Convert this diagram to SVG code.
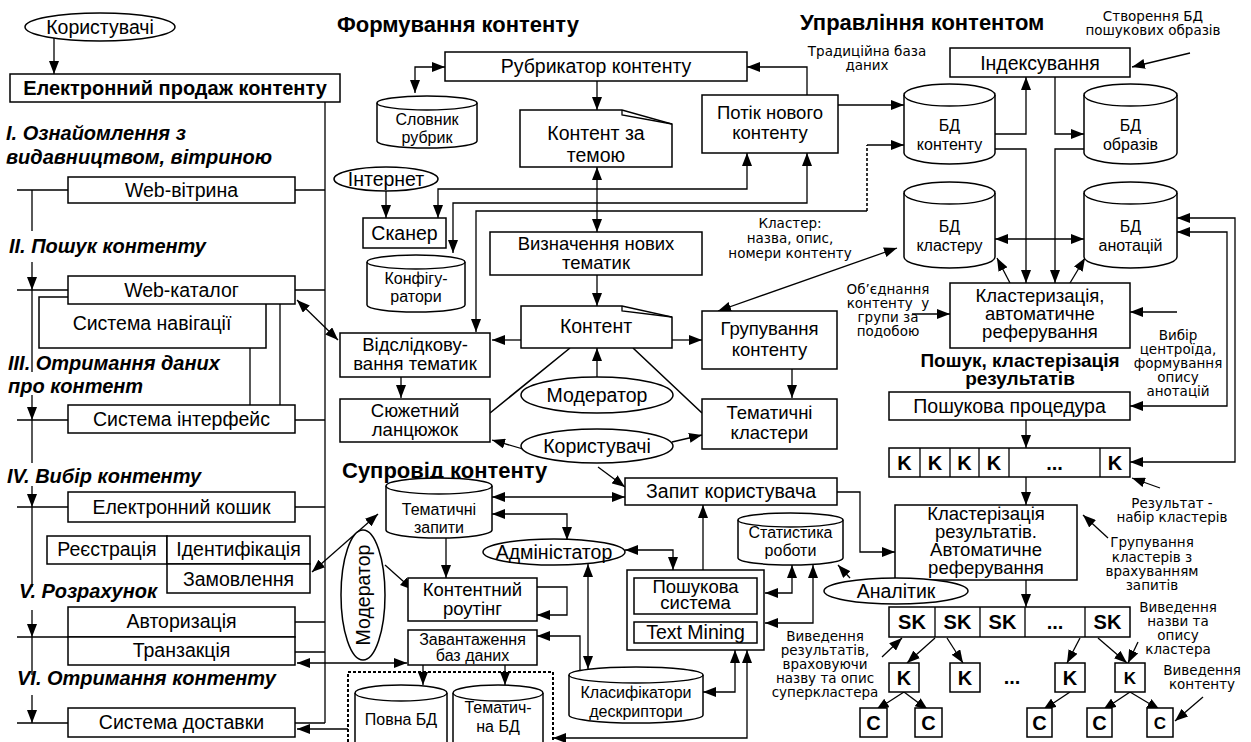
<svg xmlns="http://www.w3.org/2000/svg" width="1251" height="742" viewBox="0 0 1251 742">
<defs>
<marker id="ah" viewBox="0 0 13 10" refX="13" refY="5" markerWidth="13" markerHeight="10" markerUnits="userSpaceOnUse" orient="auto-start-reverse"><path d="M0,0 L13,5 L0,10 z" fill="#000"/></marker>
</defs>
<style>
.b{fill:#fff;stroke:#000;stroke-width:1.5}
.l{fill:none;stroke:#000;stroke-width:1.3}
.a{marker-end:url(#ah)}
.d{marker-start:url(#ah);marker-end:url(#ah)}
.dot{fill:none;stroke:#000;stroke-width:2;stroke-dasharray:3,2}
text{font-family:"Liberation Sans",Arial,sans-serif;font-size:19.5px;text-anchor:middle;fill:#000}
.m{font-size:18.5px}
.s{font-family:"DejaVu Sans",sans-serif;font-size:13.5px}
.c{font-size:16px}
.t{font-weight:bold;font-size:22px;text-anchor:start}
.g{font-weight:bold;font-style:italic;font-size:20px;text-anchor:start}
.k{font-weight:bold;font-size:20px}
</style>
<rect width="1251" height="742" fill="#fff"/>

<g id="connectors">
<path class="l a" d="M54,38 V74"/>
<path class="l" d="M325,102 V723 M295,190 H325 M295,290 H325 M295,420 H325 M295,507 H325 M295,622 H325 M295,652 H325 M295,723 H325"/>
<path class="l" d="M17,190 H68 M17,290 H68 M17,420 H68 M17,507 H68 M17,637 H68 M17,723 H68 M32,190 V231 M32,290 V372 M32,420 V463 M32,507 V587 M32,637 V675"/>
<path class="l a" d="M32,262 V290"/>
<path class="l a" d="M32,395 V420"/>
<path class="l a" d="M32,486 V507"/>
<path class="l a" d="M32,610 V637"/>
<path class="l a" d="M32,695 V723"/>
<path class="l" d="M250,348 V405 M280,304 V405"/>
<path class="l d" d="M297,300 L338,340"/>
<path class="l d" d="M312,572 L378,514"/>
<path class="l d" d="M297,663 H407"/>
<path class="l a" d="M348,729 H297"/>

<path class="l d" d="M445,67 H415 V93"/>
<path class="l a" d="M597,81 V110"/>
<path class="l d" d="M597,167 V232"/>
<path class="l a" d="M807,95 V67 H747"/>
<path class="l a" d="M838,105 H904"/>
<path class="l a" d="M867,211 H476 V332"/>
<path class="dot" style="stroke-width:1.6" d="M867,211 V145"/>
<path class="l a" d="M867,145 H904"/>
<path class="l d" d="M438,218 V189 H747 V153"/>
<path class="l d" d="M453,253 V203 H807 V153"/>
<path class="l a" d="M386,190 V218"/>
<path class="l a" d="M597,275 V306"/>
<path class="l a" d="M521,340 H492"/>
<path class="l a" d="M401,377 V398"/>
<path class="l" style="stroke-width:1.6" d="M490,413 L570,348 M633,348 L702,413"/>
<path class="l a" d="M597,377 V348"/>
<path class="l a" d="M523,449 L492,440"/>
<path class="l a" d="M672,442 L702,435"/>
<path class="l a" d="M598,467 L625,487"/>
<path class="l a" d="M672,340 H702"/>
<path class="l a" d="M792,369 V398"/>
<path class="l d" d="M718,311 L897,248"/>
<path class="l a" d="M912,314 H950"/>

<path class="l a" d="M1190,53 L1132,67"/>
<path class="l a" d="M995,134 H1026 V77"/>
<path class="l a" d="M1055,77 V134 H1084"/>
<path class="l a" d="M995,149 H1026 V283"/>
<path class="l a" d="M1084,149 H1055 V283"/>
<path class="l d" d="M995,239 H1084"/>
<path class="l a" d="M1010,283 L997,258"/>
<path class="l a" d="M1070,283 L1085,258"/>
<path class="l a" d="M1177,312 H1130"/>
<path class="l d" d="M1130,406 H1227 V232 H1177"/>
<path class="l d" d="M1130,462 H1235 V218 H1177"/>
<path class="l a" d="M1026,420 V448"/>
<path class="l a" d="M1026,477 V505"/>
<path class="l a" d="M1160,488 L1132,478"/>
<path class="l a" d="M1108,538 L1083,515"/>
<path class="l a" d="M1026,580 V607"/>

<path class="l d" d="M492,497 H625"/>
<path class="l d" d="M492,514 H567 V540"/>
<path class="l d" d="M625,550 H673 V570"/>
<path class="l d" d="M588,564 V669"/>
<path class="l a" d="M580,671 V636 H537"/>
<path class="l a" d="M446,538 V578"/>
<path class="l a" d="M537,587 H567 V615 H537"/>
<path class="l a" d="M385,565 L413,590"/>
<path class="l a" d="M423,665 V685"/>
<path class="l a" d="M505,665 V685"/>
<path class="l d" d="M553,738 H747 V650"/>
<path class="l d" d="M703,692 H735 V650"/>
<path class="l d" d="M792,565 V593 H765"/>
<path class="l d" d="M813,565 V623 H765"/>
<path class="l a" d="M850,578 L838,565"/>
<path class="l a" d="M703,570 V505"/>
<path class="l a" d="M837,492 H860 V552 H895"/>

<path class="l a" d="M882,657 L902,638"/>
<path class="l a" d="M935,638 L907,663"/>
<path class="l a" d="M947,638 L963,663"/>
<path class="l a" d="M1080,638 L1067,663"/>
<path class="l a" d="M1098,638 L1127,663"/>
<path class="l a" d="M1138,642 L1128,663"/>
<path class="l a" d="M904,692 L876,710"/>
<path class="l a" d="M904,692 L928,710"/>
<path class="l a" d="M1070,692 L1043,710"/>
<path class="l a" d="M1130,692 L1103,710"/>
<path class="l a" d="M1130,692 L1160,710"/>
<path class="l a" d="M1203,697 L1175,721"/>
</g>

<g id="users-top"><ellipse class="b" cx="100" cy="27" rx="75" ry="14"/><text x="100" y="34">Користувачі</text></g>
<g id="e-sale"><rect class="b" x="10" y="74" width="330" height="28"/><text x="175" y="95" style="font-weight:bold;font-size:20px">Електронний продаж контенту</text></g>

<g id="stages">
<text class="g" x="6" y="140">I. Ознайомлення з</text>
<text class="g" x="6" y="164">видавництвом, вітриною</text>
<text class="g" x="9" y="253">II. Пошук контенту</text>
<text class="g" x="8" y="370">III. Отримання даних</text>
<text class="g" x="8" y="393">про контент</text>
<text class="g" x="7" y="483">IV. Вибір контенту</text>
<text class="g" x="19" y="598">V. Розрахунок</text>
<text class="g" x="17" y="685">VI. Отримання контенту</text>
</g>

<g id="web-vitryna"><rect class="b" x="68" y="177" width="227" height="26"/><text x="181.5" y="197">Web-вітрина</text></g>
<g id="nav"><rect class="b" x="39" y="297" width="227" height="51"/><text x="152" y="330">Система навігації</text></g>
<g id="web-catalog"><rect class="b" x="68" y="276" width="227" height="28"/><text x="181.5" y="297">Web-каталог</text></g>
<g id="interface"><rect class="b" x="68" y="405" width="227" height="28"/><text x="181.5" y="426">Система інтерфейс</text></g>
<g id="cart"><rect class="b" x="68" y="492" width="227" height="30"/><text x="181.5" y="514">Електронний кошик</text></g>
<g id="registration"><rect class="b" x="47" y="536" width="120" height="28"/><text x="107" y="556">Реєстрація</text></g>
<g id="identification"><rect class="b" x="167" y="536" width="143" height="28"/><text x="238.5" y="556">Ідентифікація</text></g>
<g id="order"><rect class="b" x="167" y="564" width="143" height="29"/><text x="238.5" y="586">Замовлення</text></g>
<g id="auth"><rect class="b" x="68" y="607" width="227" height="30"/><text x="181.5" y="628">Авторизація</text></g>
<g id="transaction"><rect class="b" x="68" y="637" width="227" height="28"/><text x="181.5" y="657">Транзакція</text></g>
<g id="delivery"><rect class="b" x="68" y="708" width="227" height="29"/><text x="181.5" y="729">Система доставки</text></g>

<g id="titles">
<text class="t" x="337" y="32">Формування контенту</text>
<text class="t" x="800" y="30">Управління контентом</text>
<text class="t" x="342" y="478">Супровід контенту</text>
<text x="1020" y="367" style="font-weight:bold;font-size:19px">Пошук, кластерізація</text>
<text x="1020" y="385" style="font-weight:bold;font-size:19px">результатів</text>
</g>

<g id="rubricator"><rect class="b" x="445" y="52" width="302" height="29"/><text x="596" y="73">Рубрикатор контенту</text></g>
<g id="slovnyk"><path class="b" d="M377,103 A50,7 0 0 1 477,103 V141 A50,7 0 0 1 377,141 Z"/><path class="l" d="M377,103 A50,7 0 0 0 477,103"/><text class="c" x="427" y="125">Словник</text><text class="c" x="427" y="143">рубрик</text></g>
<g id="content-topic"><path class="b" d="M520,110 H622 L672,124 V167 H520 Z"/><path class="l" d="M622,110 V115 L672,124"/><text x="596" y="140">Контент за</text><text x="596" y="162">темою</text></g>
<g id="flow"><rect class="b" x="702" y="95" width="136" height="58"/><text class="m" x="770" y="119">Потік нового</text><text class="m" x="770" y="139">контенту</text></g>
<g id="internet"><ellipse class="b" cx="386" cy="179" rx="52" ry="12"/><text x="386" y="186">Інтернет</text></g>
<g id="scanner"><rect class="b" x="363" y="218" width="83" height="30"/><text x="404.5" y="240">Сканер</text></g>
<g id="configurators"><path class="b" d="M367,262 A49,7 0 0 1 465,262 V305 A49,7 0 0 1 367,305 Z"/><path class="l" d="M367,262 A49,7 0 0 0 465,262"/><text class="c" x="416" y="284">Конфігу-</text><text class="c" x="416" y="302">ратори</text></g>
<g id="define"><rect class="b" x="490" y="232" width="212" height="43"/><text class="m" x="596" y="250">Визначення нових</text><text class="m" x="596" y="269">тематик</text></g>
<g id="content"><path class="b" d="M521,306 H622 L672,317 V348 H521 Z"/><path class="l" d="M622,306 V311 L672,317"/><text x="596" y="333">Контент</text></g>
<g id="tracking"><rect class="b" x="340" y="333" width="150" height="44"/><text class="m" x="415" y="351">Відслідкову-</text><text class="m" x="415" y="370">вання тематик</text></g>
<g id="storyline"><rect class="b" x="340" y="399" width="150" height="43"/><text class="m" x="415" y="417">Сюжетний</text><text class="m" x="415" y="436">ланцюжок</text></g>
<g id="moderator-mid"><ellipse class="b" cx="597" cy="395" rx="76" ry="18"/><text x="597" y="402">Модератор</text></g>
<g id="users-mid"><ellipse class="b" cx="597" cy="446" rx="76" ry="17"/><text x="597" y="453">Користувачі</text></g>
<g id="grouping"><rect class="b" x="702" y="311" width="135" height="58"/><text class="m" x="769.5" y="335">Групування</text><text class="m" x="769.5" y="356">контенту</text></g>
<g id="thematic-clusters"><rect class="b" x="702" y="399" width="135" height="50"/><text class="m" x="769.5" y="419">Тематичні</text><text class="m" x="769.5" y="439">кластери</text></g>

<g id="labels">
<text class="s" x="867" y="56">Традиційна база</text><text class="s" x="867" y="70">даних</text>
<text class="s" x="1153" y="21">Створення БД</text><text class="s" x="1153" y="35">пошукових образів</text>
<text class="s" x="790" y="228">Кластер:</text><text class="s" x="790" y="243">назва, опис,</text><text class="s" x="790" y="258">номери контенту</text>
<text class="s" x="888" y="294">Об’єднання</text><text class="s" x="888" y="308" xml:space="preserve">контенту  у</text><text class="s" x="888" y="322">групи за</text><text class="s" x="888" y="336">подобою</text>
<text class="s" x="1178" y="340">Вибір</text><text class="s" x="1178" y="354">центроїда,</text><text class="s" x="1178" y="368">формування</text><text class="s" x="1178" y="382">опису</text><text class="s" x="1178" y="396">анотацій</text>
<text class="s" x="1172" y="508">Результат -</text><text class="s" x="1172" y="522">набір кластерів</text>
<text class="s" x="1152" y="547">Групування</text><text class="s" x="1152" y="562">кластерів з</text><text class="s" x="1152" y="576">врахуванням</text><text class="s" x="1152" y="590">запитів</text>
<text class="s" x="1178" y="612">Виведення</text><text class="s" x="1178" y="626">назви та</text><text class="s" x="1178" y="640">опису</text><text class="s" x="1178" y="654">кластера</text>
<text class="s" x="1202" y="675">Виведення</text><text class="s" x="1202" y="689">контенту</text>
<text class="s" x="825" y="641">Виведення</text><text class="s" x="825" y="655">результатів,</text><text class="s" x="825" y="669">враховуючи</text><text class="s" x="825" y="683">назву та опис</text><text class="s" x="825" y="697">суперкластера</text>
</g>

<g id="indexing"><rect class="b" x="950" y="48" width="180" height="29"/><text x="1040" y="70">Індексування</text></g>
<g id="db-content"><path class="b" d="M904,95 A45.5,11 0 0 1 995,95 V153 A45.5,11 0 0 1 904,153 Z"/><path class="l" d="M904,95 A45.5,11 0 0 0 995,95"/><text class="c" x="949.5" y="131">БД</text><text class="c" x="949.5" y="150">контенту</text></g>
<g id="db-images"><path class="b" d="M1084,95 A46.5,11 0 0 1 1177,95 V153 A46.5,11 0 0 1 1084,153 Z"/><path class="l" d="M1084,95 A46.5,11 0 0 0 1177,95"/><text class="c" x="1130.5" y="131">БД</text><text class="c" x="1130.5" y="150">образів</text></g>
<g id="db-cluster"><path class="b" d="M904,193 A45.5,11 0 0 1 995,193 V257 A45.5,11 0 0 1 904,257 Z"/><path class="l" d="M904,193 A45.5,11 0 0 0 995,193"/><text class="c" x="949.5" y="232">БД</text><text class="c" x="949.5" y="251">кластеру</text></g>
<g id="db-annot"><path class="b" d="M1084,193 A46.5,11 0 0 1 1177,193 V257 A46.5,11 0 0 1 1084,257 Z"/><path class="l" d="M1084,193 A46.5,11 0 0 0 1177,193"/><text class="c" x="1130.5" y="232">БД</text><text class="c" x="1130.5" y="251">анотацій</text></g>
<g id="clustering"><rect class="b" x="950" y="283" width="180" height="65"/><text class="m" x="1040" y="302">Кластеризація,</text><text class="m" x="1040" y="320">автоматичне</text><text class="m" x="1040" y="338">реферування</text></g>
<g id="search-proc"><rect class="b" x="889" y="392" width="241" height="28"/><text x="1009.5" y="413">Пошукова процедура</text></g>
<g id="k-row"><rect class="b" x="889" y="448" width="241" height="29"/><path class="l" d="M920,448 V477 M950,448 V477 M979,448 V477 M1009,448 V477 M1100,448 V477"/><text class="k" x="904.5" y="470">K</text><text class="k" x="935" y="470">K</text><text class="k" x="964.5" y="470">K</text><text class="k" x="994" y="470">K</text><text class="k" x="1054.5" y="470">...</text><text class="k" x="1115" y="470">K</text></g>
<g id="result-clustering"><rect class="b" x="895" y="505" width="182" height="75"/><text class="m" x="986" y="520">Кластерізація</text><text class="m" x="986" y="538">результатів.</text><text class="m" x="986" y="556">Автоматичне</text><text class="m" x="986" y="574">реферування</text></g>
<g id="analyst"><ellipse class="b" cx="896" cy="591" rx="72" ry="13"/><text x="896" y="598">Аналітик</text></g>
<g id="sk-row"><rect class="b" x="889" y="607" width="241" height="30"/><path class="l" d="M935,607 V637 M980,607 V637 M1025,607 V637 M1085,607 V637"/><text class="k" x="912" y="629">SK</text><text class="k" x="957.5" y="629">SK</text><text class="k" x="1002.5" y="629">SK</text><text class="k" x="1055" y="629">...</text><text class="k" x="1107.5" y="629">SK</text></g>
<g id="k-boxes">
<rect class="b" x="889" y="663" width="30" height="29"/><text class="k" x="904" y="685">K</text>
<rect class="b" x="950" y="663" width="30" height="29"/><text class="k" x="965" y="685">K</text>
<text class="k" x="1012" y="684">...</text>
<rect class="b" x="1055" y="663" width="30" height="29"/><text class="k" x="1070" y="685">K</text>
<rect class="b" x="1115" y="663" width="30" height="29"/><text class="k" x="1130" y="684" style="font-size:17px">K</text>
</g>
<g id="c-boxes">
<rect class="b" x="860" y="708" width="27" height="29"/><text class="k" x="873.5" y="730">C</text>
<rect class="b" x="915" y="708" width="27" height="29"/><text class="k" x="928.5" y="730">C</text>
<rect class="b" x="1027" y="708" width="25" height="29"/><text class="k" x="1039.5" y="730">C</text>
<rect class="b" x="1087" y="708" width="25" height="29"/><text class="k" x="1099.5" y="730">C</text>
<rect class="b" x="1147" y="708" width="26" height="29"/><text class="k" x="1160" y="729" style="font-size:17px">C</text>
</g>

<g id="request"><rect class="b" x="625" y="478" width="212" height="27"/><text x="731" y="498">Запит користувача</text></g>
<g id="topic-requests"><path class="b" d="M386,486 A53,8 0 0 1 492,486 V530 A53,8 0 0 1 386,530 Z"/><path class="l" d="M386,486 A53,8 0 0 0 492,486"/><text class="c" x="439" y="515">Тематичні</text><text class="c" x="439" y="533">запити</text></g>
<g id="admin"><ellipse class="b" cx="554" cy="552" rx="71" ry="13"/><text x="554" y="559">Адміністатор</text></g>
<g id="moderator-v"><ellipse class="b" cx="363" cy="595" rx="22" ry="65"/><text x="363" y="595" transform="rotate(-90 363 595)" dy="7">Модератор</text></g>
<g id="routing"><rect class="b" x="408" y="578" width="129" height="43"/><text class="m" x="472.5" y="596">Контентний</text><text class="m" x="472.5" y="615">роутінг</text></g>
<g id="loading"><rect class="b" x="408" y="630" width="129" height="35"/><text class="c" x="472.5" y="645">Завантаження</text><text class="c" x="472.5" y="661">баз даних</text></g>
<g id="db-group"><rect class="dot" x="348" y="672" width="205" height="80"/></g>
<g id="db-full"><path class="b" d="M355,693 A46,8 0 0 1 447,693 V742 A46,8 0 0 1 355,742 Z"/><path class="l" d="M355,693 A46,8 0 0 0 447,693"/><text class="c" x="401" y="725">Повна БД</text></g>
<g id="db-thematic"><path class="b" d="M453,693 A45,8 0 0 1 543,693 V742 A45,8 0 0 1 453,742 Z"/><path class="l" d="M453,693 A45,8 0 0 0 543,693"/><text class="c" x="498" y="713">Тематич-</text><text class="c" x="498" y="732">на БД</text></g>
<g id="classifiers"><path class="b" d="M569,675 A67,8 0 0 1 703,675 V715 A67,8 0 0 1 569,715 Z"/><path class="l" d="M569,675 A67,8 0 0 0 703,675"/><text class="c" x="636" y="698">Класифікатори</text><text class="c" x="636" y="717">дескриптори</text></g>
<g id="statistics"><path class="b" d="M738,520 A52.5,7 0 0 1 843,520 V558 A52.5,7 0 0 1 738,558 Z"/><path class="l" d="M738,520 A52.5,7 0 0 0 843,520"/><text class="c" x="790.5" y="538">Статистика</text><text class="c" x="790.5" y="556">роботи</text></g>
<g id="search-system"><rect class="b" x="627" y="570" width="137" height="80"/><rect class="b" x="634" y="578" width="123" height="36"/><text class="m" x="695.5" y="593">Пошукова</text><text class="m" x="695.5" y="609">система</text><rect class="b" x="634" y="622" width="123" height="21"/><text x="695.5" y="639">Text Mining</text></g>
</svg>
